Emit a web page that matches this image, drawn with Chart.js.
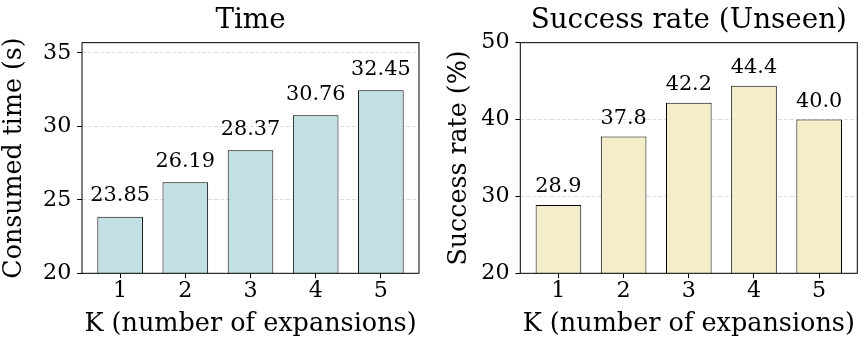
<!DOCTYPE html>
<html>
<head>
<meta charset="utf-8">
<script src="https://cdn.jsdelivr.net/npm/chart.js@4/dist/chart.umd.min.js"></script>
<style>
  html, body { margin: 0; padding: 0; background: #fff; }
  #wrap { position: relative; width: 866px; height: 348px; }
  canvas { position: absolute; top: 0; }
</style>
</head>
<body>
<div id="wrap">
  <canvas id="timeChart" width="433" height="348" style="left:0"></canvas>
  <canvas id="rateChart" width="433" height="348" style="left:433px"></canvas>
</div>
<script>
// data
var kValues = [1, 2, 3, 4, 5];
var timeValues = [23.85, 26.19, 28.37, 30.76, 32.45];
var rateValues = [28.9, 37.8, 42.2, 44.4, 40.0];
var timeTicks = [20, 25, 30, 35];
var rateTicks = [20, 30, 40, 50];

var serif = "'DejaVu Serif', serif";

// writes the number above each bar
var valueLabels = {
  id: 'valueLabels',
  afterDatasetsDraw: function(chart, args, opts) {
    var ctx = chart.ctx;
    var ds = chart.data.datasets[0];
    ctx.save();
    ctx.font = '20.8px ' + serif;
    ctx.fillStyle = '#000';
    ctx.textAlign = 'center';
    ctx.textBaseline = 'alphabetic';
    chart.getDatasetMeta(0).data.forEach(function(bar, i) {
      ctx.fillText(ds.data[i].y.toFixed(opts.decimals), bar.x, bar.y - opts.gap);
    });
    ctx.restore();
  }
};

// black box round the plot area
var frame = {
  id: 'frame',
  afterDraw: function(chart) {
    var a = chart.chartArea, ctx = chart.ctx;
    ctx.save();
    ctx.strokeStyle = '#000';
    ctx.lineWidth = 1;
    ctx.strokeRect(a.left, a.top, a.right - a.left, a.bottom - a.top);
    ctx.restore();
  }
};

function makeChart(id, values, ticks, o) {
  return new Chart(document.getElementById(id), {
    type: 'bar',
    data: {
      datasets: [{
        data: kValues.map(function(k, i) { return {x: k, y: values[i]}; }),
        backgroundColor: o.color,
        borderColor: '#000',
        borderWidth: 1,
        borderSkipped: false,
        barPercentage: 0.7,
        categoryPercentage: 1
      }]
    },
    options: {
      responsive: false,
      animation: false,
      devicePixelRatio: 1,
      layout: { padding: { left: 0, right: o.rightPad, top: 0, bottom: 0 } },
      plugins: {
        legend: { display: false },
        tooltip: { enabled: false },
        title: {
          display: true,
          fullSize: false,
          text: o.title,
          color: '#000',
          font: { family: serif, size: 27.8, weight: 'normal', lineHeight: 1.2 },
          padding: { top: 4.4, bottom: 4.9 }
        },
        valueLabels: { decimals: o.decimals, gap: o.gap }
      },
      scales: {
        x: {
          type: 'linear',
          offset: false,
          min: 0.415,
          max: 5.585,
          afterBuildTicks: function(s) { s.ticks = kValues.map(function(v) { return {value: v}; }); },
          afterFit: function(s) { s.height = 74.7; },
          grid: { offset: false, drawOnChartArea: false, drawTicks: true, tickColor: '#000', tickLength: 4.9, tickWidth: 1 },
          border: { display: false },
          ticks: { color: '#000', padding: 0, maxRotation: 0, font: { family: serif, size: 22.2 } },
          title: {
            display: true,
            text: 'K (number of expansions)',
            color: '#000',
            font: { family: serif, size: 25.5, lineHeight: 1 },
            padding: { top: 0, bottom: 10.6 }
          }
        },
        y: {
          min: 20,
          max: o.yMax,
          afterBuildTicks: function(s) { s.ticks = ticks.map(function(v) { return {value: v}; }); },
          afterFit: function(s) { s.width = o.axisWidth; },
          grid: { color: '#dddddd', lineWidth: 1, tickColor: '#000', tickLength: 4.9, tickWidth: 1, tickBorderDash: [] },
          border: { display: false, dash: [4, 2] },
          ticks: { color: '#000', padding: 5.8, font: { family: serif, size: 22.2 } },
          title: {
            display: true,
            text: o.yTitle,
            color: '#000',
            font: { family: serif, size: 25.3, lineHeight: 1 },
            padding: { top: o.yTitlePad, bottom: 0 }
          }
        }
      }
    },
    plugins: [valueLabels, frame]
  });
}

makeChart('timeChart', timeValues, timeTicks, {
  title: 'Time', yTitle: 'Consumed time (s)', yMax: 35.695,
  color: '#c2dfe3', decimals: 2, gap: 15.3,
  axisWidth: 82, rightPad: 14, yTitlePad: 1.5
});

makeChart('rateChart', rateValues, rateTicks, {
  title: 'Success rate (Unseen)', yTitle: 'Success rate (%)', yMax: 50,
  color: '#f3edca', decimals: 1, gap: 12.6,
  axisWidth: 87.3, rightPad: 8.7, yTitlePad: 13.9
});
</script>
</body>
</html>
